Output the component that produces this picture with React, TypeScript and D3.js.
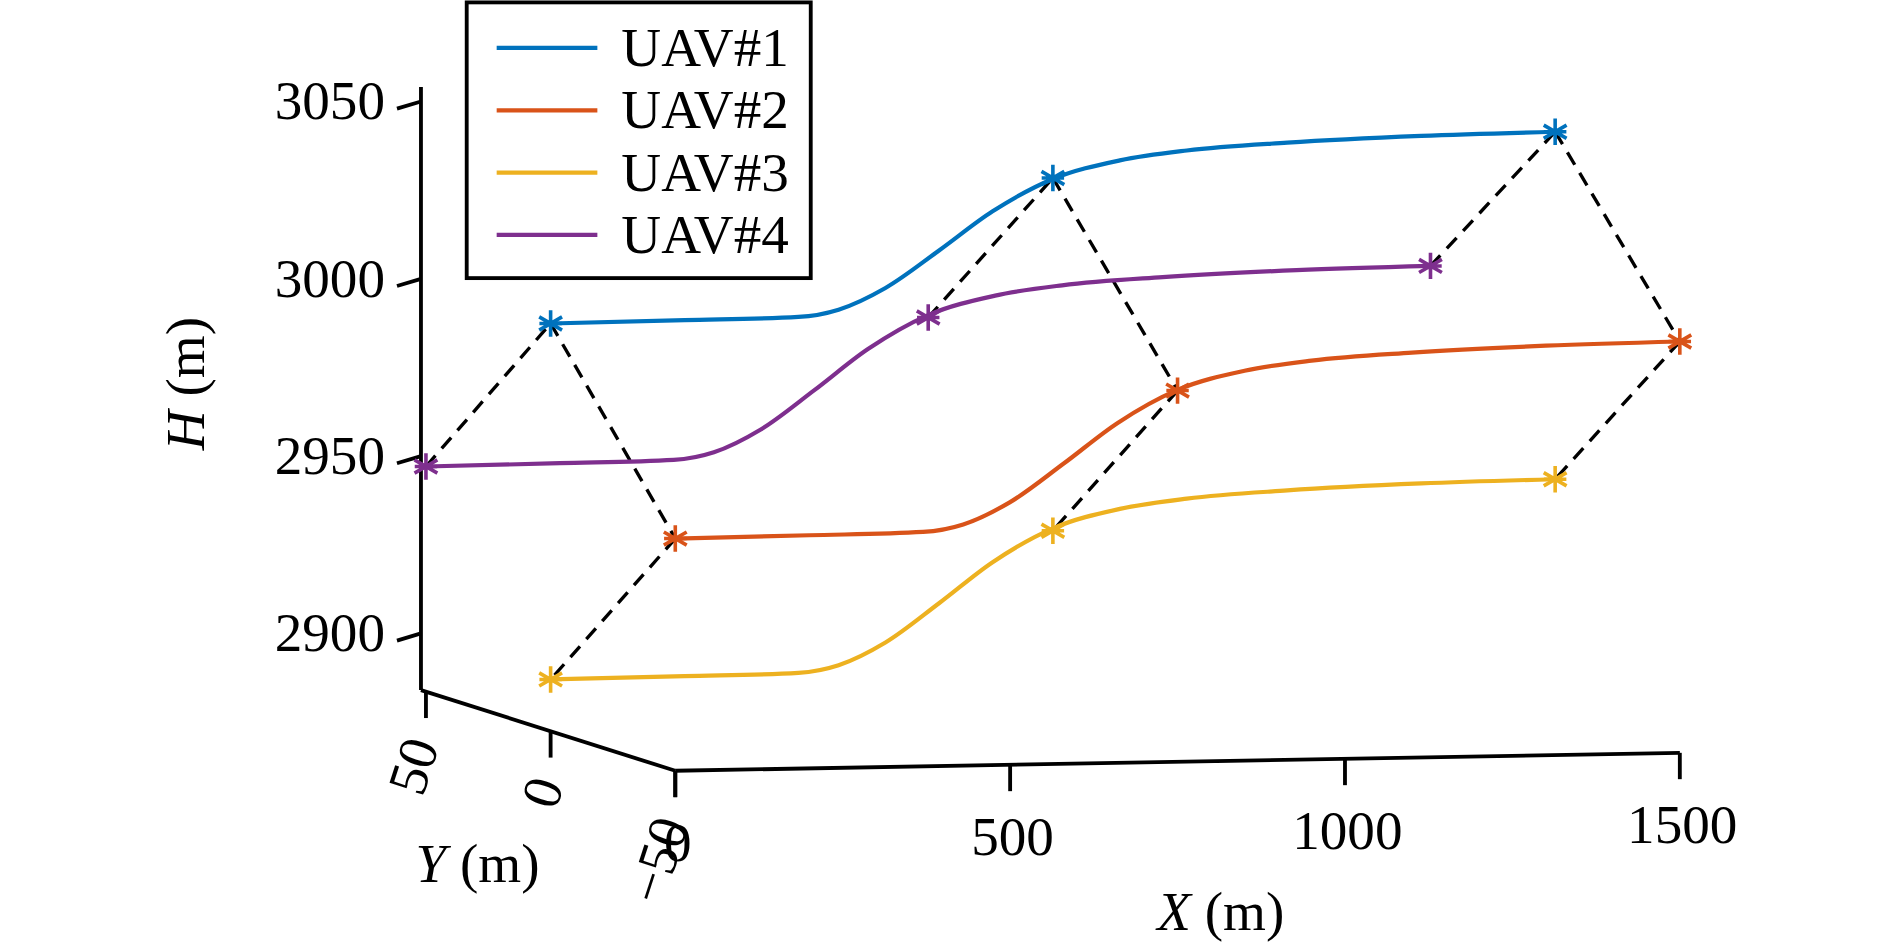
import React from "react";
import * as d3 from "d3";

// waypoints (X, Y, H) per UAV
const uavNames = ["UAV#1", "UAV#2", "UAV#3", "UAV#4"];
const uavColors = ["#0072BD", "#D95319", "#EDB120", "#7E2F8E"];
const uavY = [0, -50, 0, 50];
const waypointX = [0, 750, 1500];
const uavH = [
  [2999, 3037.5, 3048],
  [2949.5, 2988.7, 3000],
  [2898.6, 2938, 2950],
  [2947.5, 2987, 2999],
];
// climb profile between waypoints (fraction of total climb)
const profileX = [0, 200, 370, 430, 500, 580, 660, 750, 850, 950, 1100, 1300, 1500];
const profileFrac = [0, 0.005, 0.012, 0.05, 0.17, 0.38, 0.6, 0.78, 0.88, 0.93, 0.965, 0.99, 1];
const hTicks = [2900, 2950, 3000, 3050];
const xTicks = [0, 500, 1000, 1500];
const yTicks = [50, 0, -50];

const W = 1560;
const H = 790;
const font = "'Liberation Serif', 'Times New Roman', serif";

// oblique projection of the 3D box
const origin = { x: 555, y: 643 }; // X=0, Y=-50, H=hMin
const hMin = 2884;
const sx = d3.scaleLinear().domain([0, 1500]).range([0, 838]);
const sxy = d3.scaleLinear().domain([0, 1500]).range([0, -15]);
const sy = d3.scaleLinear().domain([-50, 50]).range([0, -208]);
const syy = d3.scaleLinear().domain([-50, 50]).range([0, -66]);
const sh = d3.scaleLinear().domain([hMin, 3050]).range([0, -491]);

const proj = (X: number, Y: number, Hh: number): [number, number] => [
  origin.x + sx(X) + sy(Y),
  origin.y + sxy(X) + syy(Y) + sh(Hh),
];

const star = (cx: number, cy: number, r: number) =>
  [0, 60, 120].map((a) => {
    const t = (a * Math.PI) / 180 + Math.PI / 2;
    return `M${cx - r * Math.cos(t)},${cy - r * Math.sin(t)}L${cx + r * Math.cos(t)},${cy + r * Math.sin(t)}`;
  }).join("") + `M${cx - r * 0.85},${cy}L${cx + r * 0.85},${cy}`;

export default function App() {
  const line = d3.line().curve(d3.curveMonotoneX);
  const yAxisTop = 52;
  const hAxisBase = proj(0, yAxisTop, hMin);
  const hAxisTop = proj(0, yAxisTop, 3050);

  const pathFor = (i: number) => {
    const [h0, , h2] = uavH[i];
    const pts = profileX.map((X, k) => proj(X, uavY[i], h0 + (h2 - h0) * profileFrac[k]));
    return line(pts) || "";
  };

  const dashed: [number, number][] = [[3, 0], [0, 1], [1, 2]];

  return (
    <svg width={1890} height={947} viewBox={`0 0 ${W} ${H}`}
      style={{ position: "absolute", left: 0, top: 0, background: "#fff" }}>
      <rect x={0} y={0} width={W} height={H} fill="#fff" />
      {/* axes */}
      <g stroke="#000" strokeWidth={3.2} fill="none">
        <path d={`M${hAxisTop[0]},${hAxisTop[1] - 12}L${hAxisBase[0]},${hAxisBase[1]}`} />
        <path d={`M${hAxisBase[0]},${hAxisBase[1]}L${proj(0, -50, hMin).join(",")}`} />
        <path d={`M${proj(0, -50, hMin).join(",")}L${proj(1500, -50, hMin).join(",")}`} />
        {hTicks.map((t) => {
          const p = proj(0, yAxisTop, t);
          return <path key={t} d={`M${p[0]},${p[1]}L${p[0] - 20},${p[1] + 6}`} />;
        })}
        {xTicks.map((t) => {
          const p = proj(t, -50, hMin);
          return <path key={t} d={`M${p[0]},${p[1]}L${p[0]},${p[1] + 22}`} />;
        })}
        {yTicks.map((t) => {
          const p = proj(0, t, hMin);
          return <path key={t} d={`M${p[0]},${p[1]}L${p[0]},${p[1] + 22}`} />;
        })}
      </g>
      <g fontFamily={font} fontSize={46} fill="#000">
        {hTicks.map((t) => {
          const p = proj(0, yAxisTop, t);
          return <text key={t} x={p[0] - 30} y={p[1] + 15} textAnchor="end">{t}</text>;
        })}
        {xTicks.map((t) => {
          const p = proj(t, -50, hMin);
          return <text key={t} x={p[0] + 2} y={p[1] + 75} textAnchor="middle">{t}</text>;
        })}
        {yTicks.map((t) => {
          const p = proj(0, t, hMin);
          return (
            <text key={t} transform={`translate(${p[0] - 4},${p[1] + 40}) rotate(-72)`}
              textAnchor="end" dy="0.35em">{t === -50 ? "\u221250" : t}</text>
          );
        })}
        <text transform="translate(162,320) rotate(-90)" textAnchor="middle">
          <tspan fontStyle="italic">H</tspan> (m)
        </text>
        <text x={390} y={736} textAnchor="middle"><tspan fontStyle="italic">Y</tspan> (m)</text>
        <text x={1010} y={776} textAnchor="middle"><tspan fontStyle="italic">X</tspan> (m)</text>
      </g>
      {/* formation links */}
      <g stroke="#000" strokeWidth={2.8} strokeDasharray="12,8" fill="none">
        {waypointX.map((X, w) =>
          dashed.map(([a, b]) => {
            const p = proj(X, uavY[a], uavH[a][w]);
            const q = proj(X, uavY[b], uavH[b][w]);
            return <path key={`${w}-${a}-${b}`} d={`M${p[0]},${p[1]}L${q[0]},${q[1]}`} />;
          })
        )}
      </g>
      {/* trajectories */}
      {uavNames.map((n, i) => (
        <g key={n} stroke={uavColors[i]} fill="none" strokeWidth={3.5}>
          <path d={pathFor(i)} />
          {waypointX.map((X, w) => {
            const p = proj(X, uavY[i], uavH[i][w]);
            return <path key={w} d={star(p[0], p[1], 11)} strokeWidth={3} />;
          })}
        </g>
      ))}
      {/* legend */}
      <g>
        <rect x={381} y={2} width={287} height={230} fill="#fff" stroke="#000" strokeWidth={3.2} />
        {uavNames.map((n, i) => {
          const y = 40 + i * 52;
          return (
            <g key={n}>
              <line x1={406} x2={490} y1={y} y2={y} stroke={uavColors[i]} strokeWidth={3.5} />
              <text x={510} y={y + 15} fontFamily={font} fontSize={46}>{n}</text>
            </g>
          );
        })}
      </g>
    </svg>
  );
}
